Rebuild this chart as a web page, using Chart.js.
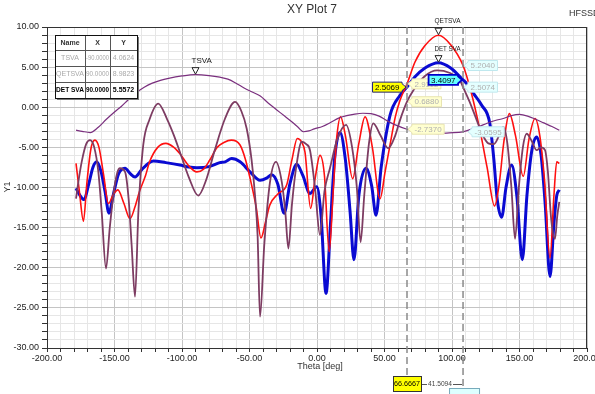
<!DOCTYPE html>
<html><head><meta charset="utf-8">
<script src="https://cdn.jsdelivr.net/npm/chart.js@4.4.1/dist/chart.umd.min.js"></script>
<style>html,body{margin:0;padding:0;background:#fff;}#wrap{width:595px;height:394px;position:relative;}</style>
</head><body><div id="wrap"><canvas id="c" width="595" height="394"></canvas></div>
<script>
// ---- data ----
const tsvaTheta = [-178.5,-174,-168,-162,-156,-150,-145,-140,-134,-128,-122,-116,-110,-100,-90,-80,-72,-66,-60,-54,-48,-42,-36,-30,-24,-18,-14,-10,-6,-2,4,10,16,22,28,34,40,46,52,58,66.67,74,82,90,98,108.18,114,120,126,132,138,144,150,156,162,168,174,179.5];
const tsvaVals  = [-2.86,-3.0,-3.15,-2.5,-1.5,-0.6,0.1,0.9,1.8,2.5,3.0,3.35,3.6,3.9,4.06,3.95,3.75,3.5,3.0,2.4,1.9,1.4,0.5,-0.3,-1.1,-1.9,-2.5,-3.05,-2.95,-2.7,-2.4,-1.9,-1.35,-1.05,-0.85,-0.75,-0.8,-1.1,-1.7,-2.2,-2.737,-3.0,-3.2,-3.28,-3.2,-3.06,-2.75,-2.4,-2.0,-1.65,-1.4,-1.05,-0.9,-1.1,-1.5,-1.95,-2.4,-2.86];

const qetTheta = [-178.5,-176,-173,-170.5,-167.5,-164.5,-161.5,-158,-154.5,-151,-147.5,-143,-138.5,-135,-131.5,-127,-124,-118,-112,-106,-101.5,-95,-89,-84,-79.5,-74,-69,-63.5,-57,-53,-49.5,-45,-41.5,-38,-35,-29,-22.5,-18.5,-14.6,-11.5,-8.9,-4.7,-1.5,2.2,5.5,9,12,14.5,17.5,21,26.4,31,35.6,41,46.7,50.5,54.1,58,61.5,66.67,72.6,80,89.9,99,108.18,114,120.7,126,131.5,135,138.5,142.5,147,152.8,157,161.5,165,168.5,172.6,175.5,177.6,179.5];
const qetVals  = [-7.0,-10.5,-14.2,-9.5,-5.2,-4.1,-5.0,-8.5,-12.0,-10.9,-10.3,-12.0,-13.9,-12.5,-10.5,-8.5,-6.8,-5.0,-4.5,-5.0,-5.8,-7.3,-8.05,-7.7,-6.6,-5.0,-4.4,-4.1,-4.7,-6.5,-8.9,-12.5,-16.3,-14.2,-12.2,-10.8,-9.7,-6.5,-3.9,-4.3,-5.6,-12.6,-9.0,-6.0,-8.5,-18.0,-10.5,-4.0,-1.2,-3.5,-8.9,-4.5,-1.2,-5.0,-11.4,-8.0,-4.7,-1.2,0.87,2.91,5.64,7.7,8.98,7.8,5.204,2.0,-2.86,-7.5,-12.3,-9.5,-4.2,-0.8,-3.5,-8.6,-4.0,-1.4,-3.5,-9.0,-18.8,-11.0,-6.8,-7.0];

const detTheta = [-178.5,-175.5,-172.6,-169,-166,-163.2,-160,-157,-154.1,-151,-147,-142.2,-138.5,-134.8,-130,-125,-121.3,-112,-101.5,-95,-89,-80,-72,-68,-63.2,-57,-49.6,-42.2,-37,-33.6,-29,-24.4,-20,-15,-10.5,-5.2,-0.2,3,6.7,10,13,17,21,24.5,27.4,31,36.3,40.5,43.7,47.5,54.1,61.5,66.67,72.6,80,89.9,99,108.18,110.9,116,122,128,131,133.5,136.8,140,144.2,148,152.1,155.5,159,162.7,166,169,172.6,175.5,177.6,179.5];
const detVals  = [-10.1,-11.0,-11.5,-9.5,-7.5,-6.8,-8.0,-10.5,-13.2,-11.0,-8.3,-7.6,-8.25,-8.7,-7.8,-7.0,-6.7,-6.9,-7.2,-7.45,-7.55,-7.4,-6.9,-6.8,-6.4,-6.8,-8.05,-9.1,-8.8,-8.4,-9.6,-13.2,-9.5,-7.1,-8.5,-10.75,-9.9,-13.5,-23.2,-14.5,-6.5,-3.15,-6.5,-13.0,-19.0,-11.0,-7.6,-9.8,-13.45,-7.5,-1.0,1.5,2.507,3.8,4.9,5.557,4.9,3.41,2.95,1.7,0.25,-2.0,-6.5,-11.5,-13.7,-10.0,-7.2,-11.0,-19.0,-11.0,-5.5,-3.7,-6.0,-12.0,-21.1,-14.5,-11.0,-10.3];

const svaTheta = [-178.5,-176.5,-174.3,-171,-168.1,-165,-162,-159.5,-156.3,-153.5,-150.9,-148,-145.9,-142.2,-139.5,-137.3,-134.8,-132.3,-128.7,-124,-117.6,-111,-106,-101.5,-95,-88,-82,-76,-68.1,-60.7,-56,-52.1,-48.5,-45.9,-44,-42.2,-39,-34.8,-30.4,-26.1,-23.5,-21.2,-18.5,-15,-11.3,-8,-5.2,-1.5,2.2,5.5,9.6,15,21.5,26,29.5,32.3,35,38.5,41.7,47,52.8,58,61.5,66.67,71.3,80,89,98,105.9,108.18,113,118.3,122,126.9,131,135.5,138,141,144,146.7,149.5,152.5,155.3,159,162.7,165.8,168.9,171,173.5,176.3,178,179.5];
const svaVals  = [-11.4,-9.0,-6.8,-4.6,-4.1,-5.0,-8.0,-13.0,-20.1,-15.0,-11.0,-8.2,-7.6,-8.05,-11.5,-17.2,-23.6,-13.0,-4.7,-1.5,0.46,-1.5,-3.5,-5.6,-8.7,-11.0,-9.0,-5.5,-1.4,0.66,-0.5,-2.65,-6.5,-11.0,-16.0,-26.1,-17.0,-9.3,-6.8,-9.3,-13.0,-17.6,-12.0,-7.0,-4.3,-4.6,-5.35,-10.0,-15.9,-10.5,-7.6,-4.0,-2.2,-5.0,-10.0,-16.8,-11.0,-4.5,-2.0,-3.5,-5.1,-3.5,-1.6,0.688,2.1,3.9,4.6,4.3,3.36,2.507,0.7,-1.6,-3.2,-4.5,-4.6,-3.3,-2.45,-4.5,-10.0,-16.4,-10.0,-5.0,-3.3,-4.2,-5.35,-5.0,-5.35,-8.0,-14.0,-16.4,-13.5,-11.8];

// marker table
const tableNames = ['TSVA','QETSVA','DET SVA'];
const tableX = ['-90.0000','90.0000','90.0000'];
const tableY = ['4.0624','8.9823','5.5572'];
const peakNames = ['TSVA','QETSVA','DET SVA'];
const peakX = [-90, 90, 90];
const peakY = [4.0624, 8.9823, 5.5572];

// delta markers
const markerTheta = [66.6667, 108.1761];
const markerDelta = '41.5094';
const marker1Vals = [2.5069, 2.9112, 0.6880, -2.7370];
const marker2Vals = [5.2040, 3.4097, 2.5074, -3.0595];

const FONT = '"Liberation Sans Narrow","Liberation Sans",Arial,sans-serif';

function pts(t, v){ return t.map((x,i)=>({x:x, y:v[i]})); }
function isMul(v, m){ const r = Math.round(v); return Math.abs(v-r) < 1e-6 && r % m === 0; }

function tag(ctx, x, y, text, side, fill, stroke, tc, lw){
  ctx.save();
  ctx.font = '8px ' + FONT;
  const w = ctx.measureText(text).width + 5, h = 10;
  let bx;
  ctx.beginPath();
  if (side === 'right'){
    bx = x + 5;
    ctx.moveTo(x+1, y); ctx.lineTo(bx, y-3.5); ctx.lineTo(bx, y-h/2); ctx.lineTo(bx+w, y-h/2);
    ctx.lineTo(bx+w, y+h/2); ctx.lineTo(bx, y+h/2); ctx.lineTo(bx, y+3.5); ctx.closePath();
  } else {
    bx = x - 5 - w;
    ctx.moveTo(x-1, y); ctx.lineTo(x-5, y-3.5); ctx.lineTo(x-5, y-h/2); ctx.lineTo(bx, y-h/2);
    ctx.lineTo(bx, y+h/2); ctx.lineTo(x-5, y+h/2); ctx.lineTo(x-5, y+3.5); ctx.closePath();
  }
  ctx.fillStyle = fill; ctx.fill();
  ctx.lineWidth = lw; ctx.strokeStyle = stroke; ctx.stroke();
  ctx.fillStyle = tc; ctx.textAlign = 'center'; ctx.textBaseline = 'middle';
  ctx.fillText(text, bx + w/2, y + 0.5);
  ctx.restore();
}

const overlay = {
  id: 'overlay',
  beforeDatasetsDraw(chart){
    const {ctx, chartArea: ca} = chart;
    ctx.save();
    ctx.strokeStyle = '#333'; ctx.lineWidth = 1;
    ctx.strokeRect(ca.left+0.5, ca.top+0.5, ca.right-ca.left-1, ca.bottom-ca.top);
    ctx.restore();
  },
  afterDraw(chart){
    const {ctx, chartArea: ca} = chart;
    const xs = chart.scales.x, ys = chart.scales.y;
    ctx.save();
    // titles
    ctx.fillStyle = '#333'; ctx.textBaseline = 'middle';
    ctx.font = '12px "Liberation Sans",Arial,sans-serif'; ctx.textAlign = 'center';
    ctx.fillText('XY Plot 7', 312, 10);
    ctx.font = '9px "Liberation Sans",Arial,sans-serif'; ctx.textAlign = 'left';
    ctx.fillText('HFSSDesign1', 569, 14);
    ctx.font = '9px ' + FONT; ctx.textAlign = 'center';
    ctx.fillText('Theta [deg]', 320, 367);
    ctx.save(); ctx.translate(8, 187); ctx.rotate(-Math.PI/2);
    ctx.fillText('Y1', 0, 0); ctx.restore();

    // dashed marker lines
    const mx = markerTheta.map(t => xs.getPixelForValue(t));
    ctx.strokeStyle = '#8a8a8a'; ctx.lineWidth = 1.5; ctx.setLineDash([7,4]);
    ctx.beginPath(); ctx.moveTo(mx[0], ca.top); ctx.lineTo(mx[0], 376); ctx.stroke();
    ctx.beginPath(); ctx.moveTo(mx[1], ca.top); ctx.lineTo(mx[1], 388); ctx.stroke();
    ctx.setLineDash([]);

    // marker tags
    const pY = marker1Vals.map(v => ys.getPixelForValue(v));
    tag(ctx, mx[0], pY[0], marker1Vals[0].toFixed(4), 'left', '#ffff00', '#20207a', '#000', 1);
    for (let i = 1; i < 4; i++) tag(ctx, mx[0], pY[i], marker1Vals[i].toFixed(4), 'right', '#ffffd0', '#e8e4b0', '#b0b0b0', 1);
    const qY = marker2Vals.map(v => ys.getPixelForValue(v));
    tag(ctx, mx[1], qY[0], marker2Vals[0].toFixed(4), 'right', '#e4ffff', '#c0e8ee', '#b0b0b0', 1);
    tag(ctx, mx[1], qY[2], marker2Vals[2].toFixed(4), 'right', '#e4ffff', '#c0e8ee', '#b0b0b0', 1);
    tag(ctx, mx[1] + 4, qY[3], marker2Vals[3].toFixed(4), 'right', '#e4ffff', '#c0e8ee', '#b0b0b0', 1);
    tag(ctx, mx[1], qY[1], marker2Vals[1].toFixed(4), 'left', '#66ffff', '#0000cc', '#000', 1.8);

    // peak markers
    ctx.font = '8px ' + FONT; ctx.textAlign = 'left'; ctx.textBaseline = 'middle';
    for (let i = 0; i < peakNames.length; i++){
      const px = xs.getPixelForValue(peakX[i]), py = ys.getPixelForValue(peakY[i]);
      ctx.beginPath(); ctx.moveTo(px-3.5, py-7); ctx.lineTo(px+3.5, py-7); ctx.lineTo(px, py-0.5); ctx.closePath();
      ctx.fillStyle = '#fff'; ctx.fill(); ctx.strokeStyle = '#222'; ctx.lineWidth = 1; ctx.stroke();
      ctx.fillStyle = '#222';
      ctx.fillText(peakNames[i], px - 4, py - 14, 26);
    }

    // table
    const tx = 55, ty = 35, cw = [30,25,27], rh = [15,16,16,16];
    const W = cw[0]+cw[1]+cw[2], H = rh[0]+rh[1]+rh[2]+rh[3];
    ctx.fillStyle = '#777'; ctx.fillRect(tx+2, ty+2, W, H);
    ctx.fillStyle = '#fff'; ctx.fillRect(tx, ty, W, H);
    ctx.strokeStyle = '#555'; ctx.lineWidth = 1;
    let yy = ty;
    for (let r = 0; r < 3; r++){ yy += rh[r]; ctx.beginPath(); ctx.moveTo(tx, yy+0.5); ctx.lineTo(tx+W, yy+0.5); ctx.stroke(); }
    ctx.beginPath(); ctx.moveTo(tx+cw[0]+0.5, ty); ctx.lineTo(tx+cw[0]+0.5, ty+H); ctx.stroke();
    ctx.beginPath(); ctx.moveTo(tx+cw[0]+cw[1]+0.5, ty); ctx.lineTo(tx+cw[0]+cw[1]+0.5, ty+H); ctx.stroke();
    ctx.strokeStyle = '#111'; ctx.strokeRect(tx+0.5, ty+0.5, W, H);
    const cx = [tx+cw[0]/2, tx+cw[0]+cw[1]/2, tx+cw[0]+cw[1]+cw[2]/2];
    ctx.textAlign = 'center'; ctx.textBaseline = 'middle';
    ctx.font = 'bold 7px ' + FONT; ctx.fillStyle = '#333';
    const hdr = ['Name','X','Y'];
    for (let c = 0; c < 3; c++) ctx.fillText(hdr[c], cx[c], ty + rh[0]/2 + 0.5, cw[c]-2);
    yy = ty + rh[0];
    for (let r = 0; r < 3; r++){
      const cyy = yy + rh[r+1]/2 + 0.5;
      if (r === 2){ ctx.font = 'bold 7px ' + FONT; ctx.fillStyle = '#000'; }
      else { ctx.font = '7px ' + FONT; ctx.fillStyle = '#a8a8a8'; }
      ctx.fillText(tableNames[r], cx[0], cyy, cw[0]-2);
      ctx.fillText(tableX[r], cx[1], cyy, cw[1]-2);
      ctx.fillText(tableY[r], cx[2], cyy, cw[2]-2);
      yy += rh[r+1];
    }

    // bottom delta readout
    ctx.font = '8px ' + FONT;
    const b1 = mx[0];
    ctx.fillStyle = '#ffff00'; ctx.fillRect(b1-14, 376, 28, 15);
    ctx.strokeStyle = '#333'; ctx.lineWidth = 1; ctx.strokeRect(b1-14+0.5, 376.5, 28, 15);
    ctx.fillStyle = '#000'; ctx.textAlign = 'center';
    ctx.fillText(markerTheta[0].toFixed(4), b1, 384, 26);
    ctx.strokeStyle = '#555';
    ctx.beginPath(); ctx.moveTo(b1+15, 384.5); ctx.lineTo(b1+20, 384.5); ctx.stroke();
    ctx.fillStyle = '#444'; ctx.fillText(markerDelta, b1+33, 384, 24);
    ctx.beginPath(); ctx.moveTo(b1+46, 384.5); ctx.lineTo(mx[1]-1, 384.5); ctx.stroke();
    ctx.fillStyle = '#dff'; ctx.fillRect(mx[1]-14, 388, 30, 10);
    ctx.strokeStyle = '#7ab'; ctx.strokeRect(mx[1]-14+0.5, 388.5, 30, 10);
    ctx.restore();
  }
};

new Chart(document.getElementById('c'), {
  type: 'line',
  data: { datasets: [
    { label: 'TSVA', data: pts(tsvaTheta, tsvaVals), borderColor: '#7a2f7e', borderWidth: 1.2, pointRadius: 0, cubicInterpolationMode: 'monotone' },
    { label: 'SVA', data: pts(svaTheta, svaVals), borderColor: '#7d3c62', borderWidth: 1.8, pointRadius: 0, cubicInterpolationMode: 'monotone' },
    { label: 'QETSVA', data: pts(qetTheta, qetVals), borderColor: '#ff1010', borderWidth: 1.6, pointRadius: 0, cubicInterpolationMode: 'monotone' },
    { label: 'DET SVA', data: pts(detTheta, detVals), borderColor: '#0a0ad2', borderWidth: 3, pointRadius: 0, cubicInterpolationMode: 'monotone' }
  ]},
  options: {
    responsive: false, animation: false, devicePixelRatio: 1,
    layout: { padding: { top: 27, right: 8, left: 0, bottom: 0 } },
    plugins: { legend: { display: false }, tooltip: { enabled: false }, title: { display: false } },
    scales: {
      x: {
        type: 'linear', min: -200, max: 200,
        afterFit(s){ s.height = 46; s.paddingLeft = 0; s.paddingRight = 0; },
        ticks: { stepSize: 10, autoSkip: false, maxRotation: 0, padding: 1, color: '#222',
          font: { family: FONT, size: 9 },
          callback: v => isMul(v, 50) ? Number(v).toFixed(2) : '' },
        grid: { color: c => (c.tick && isMul(c.tick.value, 50)) ? '#c4c4c4' : '#e6e6e6', tickColor: '#333', tickLength: 4, lineWidth: 1 },
        border: { color: '#222', width: 1 }
      },
      y: {
        min: -30, max: 10,
        afterFit(s){ s.width = 47; s.paddingTop = 0; s.paddingBottom = 0; },
        ticks: { stepSize: 1, autoSkip: false, padding: 3, color: '#222',
          font: { family: FONT, size: 9 },
          callback: v => isMul(v, 5) ? Number(v).toFixed(2) : '' },
        grid: { color: c => (c.tick && isMul(c.tick.value, 5)) ? '#c4c4c4' : '#e6e6e6', tickColor: '#333', tickLength: 5, lineWidth: 1 },
        border: { color: '#222', width: 1 }
      }
    }
  },
  plugins: [overlay]
});
</script>
</body></html>
